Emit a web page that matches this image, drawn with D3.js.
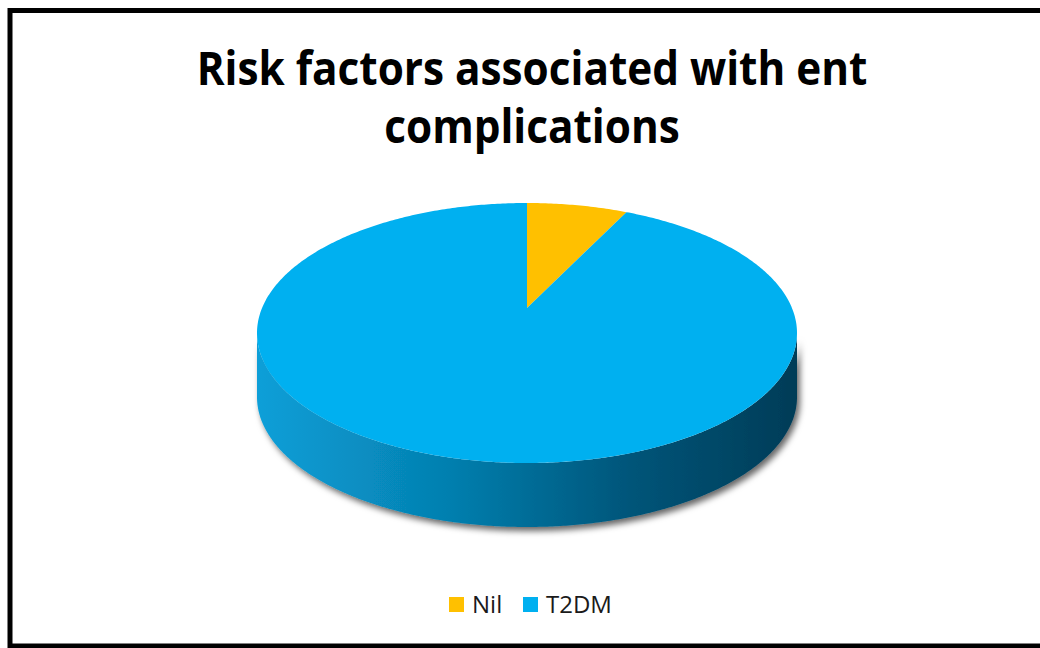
<!DOCTYPE html>
<html>
<head>
<meta charset="utf-8">
<script src="https://cdn.jsdelivr.net/npm/d3@7"></script>
<style>
  body { margin: 0; background: #fff; }
  svg { display: block; }
</style>
</head>
<body>
<div id="chart"></div>
<script>
var categories = ["Nil", "T2DM"];
var values = [6, 94];
var colors = ["#FFC000", "#00B0F0"];
var titleLines = ["Risk factors associated with ent", "complications"];

var width = 1040, height = 648;
var cx = 527, cy = 333, rx = 270, ry = 130;
var depth = 64;
var apexShift = 25; // perspective: pie centre sits above the ellipse middle

var svg = d3.select("#chart").append("svg")
    .attr("width", width)
    .attr("height", height);

var defs = svg.append("defs");

var grad = defs.append("linearGradient")
    .attr("id", "sideBlue")
    .attr("gradientUnits", "userSpaceOnUse")
    .attr("x1", cx - rx).attr("y1", 0)
    .attr("x2", cx + rx).attr("y2", 0);
grad.append("stop").attr("offset", "0%").attr("stop-color", "#0a9fd8");
grad.append("stop").attr("offset", "35%").attr("stop-color", "#0580b0");
grad.append("stop").attr("offset", "70%").attr("stop-color", "#005478");
grad.append("stop").attr("offset", "100%").attr("stop-color", "#003c57");

var shadow = defs.append("filter")
    .attr("id", "shadow")
    .attr("x", "-10%").attr("y", "-10%")
    .attr("width", "130%").attr("height", "140%");
shadow.append("feDropShadow")
    .attr("dx", 3).attr("dy", 4)
    .attr("stdDeviation", 3)
    .attr("flood-color", "#000")
    .attr("flood-opacity", 0.6);

// frame
svg.append("rect")
    .attr("x", 10)
    .attr("y", 10.5)
    .attr("width", width + 20)
    .attr("height", 635.5)
    .attr("fill", "none")
    .attr("stroke", "#000")
    .attr("stroke-width", 5);

// title
var title = svg.append("g")
    .attr("font-family", "'Open Sans', 'Liberation Sans', sans-serif")
    .attr("font-weight", "bold")
    .attr("font-size", 47)
    .attr("fill", "#000");

var titleText = title.selectAll("text")
    .data(titleLines)
    .enter().append("text")
    .attr("text-anchor", "middle")
    .attr("x", 0)
    .attr("y", function(d, i) { return 85 + i * 58; })
    .text(function(d) { return d; });

var natural = titleText.nodes()[0].getComputedTextLength();
var sx = 671 / natural;
title.attr("transform", "translate(532,0) scale(" + sx + ",1)");

// pie
var pie = d3.pie().sort(null).value(function(d) { return d; });
var slices = pie(values);

var pt = function(a, dy) {
    return [cx + rx * Math.sin(a), cy - ry * Math.cos(a) + (dy || 0)];
};

var arcPoints = function(a0, a1, dy) {
    var n = Math.max(2, Math.ceil((a1 - a0) / 0.01));
    var pts = [];
    for (var k = 0; k <= n; k++) {
        pts.push(pt(a0 + (a1 - a0) * k / n, dy));
    }
    return pts;
};

var line = d3.line();

// side walls (front half only)
var pieG = svg.append("g");

slices.forEach(function(s, i) {
    var a0 = Math.max(s.startAngle, Math.PI / 2);
    var a1 = Math.min(s.endAngle, 3 * Math.PI / 2);
    if (a1 <= a0) return;
    var top = arcPoints(a0, a1, 0);
    var bottom = arcPoints(a0, a1, depth).reverse();
    pieG.append("path")
        .attr("d", line(top.concat(bottom)) + "Z")
        .attr("fill", i == 1 ? "url(#sideBlue)" : d3.color(colors[i]).darker(1))
        .attr("filter", "url(#shadow)");
});

// top faces
var apex = [cx, cy - apexShift];
pieG.selectAll(".slice")
    .data(slices)
    .enter().append("path")
    .attr("class", "slice")
    .attr("fill", function(d, i) { return colors[i]; })
    .attr("d", function(d) {
        return line([apex].concat(arcPoints(d.startAngle, d.endAngle, 0))) + "Z";
    });

// legend
var legendX = [449, 523];
var legend = svg.append("g")
    .attr("font-family", "'Open Sans', 'Noto Sans', sans-serif")
    .attr("font-size", 24)
    .attr("fill", "#1a1a1a");

var items = legend.selectAll("g")
    .data(categories)
    .enter().append("g")
    .attr("transform", function(d, i) { return "translate(" + legendX[i] + ",0)"; });

items.append("rect")
    .attr("x", 0).attr("y", 597)
    .attr("width", 15).attr("height", 15)
    .attr("fill", function(d, i) { return colors[i]; });

items.append("text")
    .attr("x", 23)
    .attr("y", 613)
    .text(function(d) { return d; });
</script>
</body>
</html>
